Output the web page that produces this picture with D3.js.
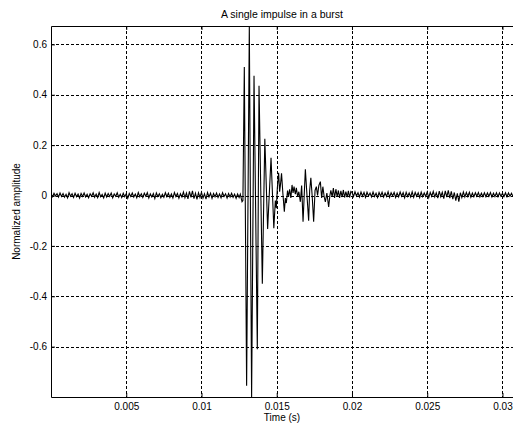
<!DOCTYPE html>
<html>
<head>
<meta charset="utf-8">
<script src="https://cdn.jsdelivr.net/npm/d3@7/dist/d3.min.js"></script>
<style>
  html, body { margin: 0; padding: 0; background: #fff; }
  svg { display: block; }
  text { font-family: "Liberation Sans", Arial, sans-serif; fill: #000; }
</style>
</head>
<body>
<script>
// ---------------- data ----------------
const chartTitle = "A single impulse in a burst";
const xLabel = "Time (s)";
const yLabel = "Normalized amplitude";
const xDomain = [0, 0.0307];
const yDomain = [-0.8, 0.673];
const xTicks = [0.005, 0.01, 0.015, 0.02, 0.025, 0.03];
const yTicks = [-0.6, -0.4, -0.2, 0, 0.2, 0.4, 0.6];

// background noise before the burst, uniformly sampled
const preStart = 0;
const preStep = 0.0001;
const preNoise = [0.006,-0.005,0.009,-0.002,0.007,-0.006,0.010,-0.004,0.008,-0.007,
0.005,-0.009,0.011,-0.003,0.007,-0.008,0.009,-0.005,0.006,-0.010,
0.008,-0.004,0.010,-0.006,0.005,-0.009,0.007,-0.003,0.011,-0.007,
0.006,-0.008,0.012,-0.005,0.004,-0.010,0.009,-0.006,0.008,-0.004,
0.010,-0.009,0.006,-0.003,0.011,-0.007,0.005,-0.008,0.009,-0.005,
0.007,-0.011,0.008,-0.004,0.010,-0.006,0.006,-0.009,0.012,-0.005,
0.007,-0.008,0.009,-0.003,0.011,-0.010,0.006,-0.006,0.008,-0.012,
0.010,-0.004,0.007,-0.009,0.005,-0.007,0.011,-0.005,0.009,-0.008,
0.006,-0.010,0.012,-0.004,0.008,-0.011,0.007,-0.006,0.014,-0.009,
0.010,-0.013,0.016,-0.007,0.018,-0.012,0.009,-0.015,0.011,-0.008,
0.013,-0.010,0.007,-0.014,0.012,-0.006,0.009,-0.011,0.008,-0.005,
0.010,-0.008,0.006,-0.009,0.011,-0.004,0.007,-0.010,0.008,-0.006,
0.009,-0.007,0.005,-0.011,0.006,-0.008];

// the burst, as turning points (time in s, amplitude)
const burstTime = [0.012580,0.012693,0.012753,0.012846,0.012999,0.013178,0.013331,0.013491,
0.013710,0.013823,0.014043,0.014209,0.014395,0.014621,0.014807,0.014907,0.014973,0.015040,
0.015126,0.015193,0.015253,0.015319,0.015406,0.015505,0.015572,0.015638,0.015718,0.015785,
0.015858,0.015938,0.016017,0.016084,0.016150,0.016237,0.016303,0.016390,0.016469,0.016569,
0.016656,0.016749,0.016902,0.017021,0.017121,0.017188,0.017267,0.017354,0.017453,0.017546,
0.017633,0.017713,0.017799,0.017899,0.017985,0.018065,0.018152,0.018231,0.018331,0.018451,
0.018531,0.018597,0.018684,0.018763,0.018843,0.018930,0.019016,0.019096,0.019176,0.019262,
0.019348,0.019428,0.019508,0.019595,0.019681,0.019761,0.019840,0.019927];
const burstValue = [0.005,-0.025,-0.020,0.510,-0.755,0.673,-0.800,0.475,
-0.610,0.436,-0.350,0.225,-0.133,0.150,-0.130,-0.020,-0.050,0.030,
0.090,0.015,0.045,0.088,0.010,-0.064,-0.010,-0.030,0.020,-0.005,
0.025,-0.010,0.042,0.010,0.035,0.005,0.030,-0.005,0.015,-0.025,
0.040,-0.104,0.104,-0.010,-0.100,0.020,0.070,0.000,-0.104,0.020,
0.035,0.000,0.040,0.055,-0.010,0.035,-0.005,-0.025,0.010,-0.045,
0.000,0.020,-0.005,0.030,-0.010,0.025,-0.005,0.020,-0.010,0.018,
-0.006,0.022,-0.008,0.015,-0.006,0.018,-0.008,0.016];

// background noise after the burst, uniformly sampled
const postStart = 0.0200;
const postStep = 0.0001;
const postNoise = [0.013,-0.004,0.015,-0.002,0.011,-0.006,0.014,-0.003,0.012,-0.007,
0.013,-0.002,0.010,-0.005,0.014,-0.004,0.009,-0.008,0.012,-0.003,
0.013,-0.006,0.010,-0.004,0.015,-0.007,0.011,-0.002,0.012,-0.008,
0.010,-0.005,0.014,-0.003,0.011,-0.009,0.013,-0.004,0.010,-0.006,
0.015,-0.007,0.012,-0.003,0.011,-0.008,0.013,-0.005,0.010,-0.004,
0.014,-0.009,0.012,-0.003,0.016,-0.006,0.011,-0.010,0.017,-0.005,
0.013,-0.012,0.018,-0.006,0.020,-0.010,0.016,-0.014,0.012,-0.020,
0.009,-0.024,0.011,-0.008,0.014,-0.006,0.012,-0.004,0.013,-0.007,
0.010,-0.005,0.011,-0.003,0.012,-0.006,0.009,-0.004,0.011,-0.005,
0.010,-0.003,0.012,-0.006,0.009,-0.004,0.011,-0.005,0.010,-0.003,
0.009,-0.004,0.011,-0.005,0.010,-0.003,0.009,-0.004];

// ---------------- layout ----------------
const W = 513, H = 424;
const mLeft = 51, mRight = 513, mTop = 26, mBottom = 397;

const svg = d3.select("body").append("svg").attr("width", W).attr("height", H);

const x = d3.scaleLinear().domain(xDomain).range([mLeft, mRight]);
const y = d3.scaleLinear().domain(yDomain).range([mBottom, mTop]);

const points = [];
preNoise.forEach((v, i) => points.push([preStart + i * preStep, v]));
burstTime.forEach((t, i) => points.push([t, burstValue[i]]));
postNoise.forEach((v, i) => points.push([postStart + i * postStep, v]));

const px = v => Math.round(v) + 0.5;

// grid
const grid = svg.append("g").attr("stroke", "#000").attr("stroke-width", 1)
  .attr("stroke-dasharray", "3,2").attr("fill", "none");
grid.selectAll("line.gx").data(xTicks).enter().append("line")
  .attr("x1", d => px(x(d))).attr("x2", d => px(x(d)))
  .attr("y1", mTop).attr("y2", mBottom);
grid.selectAll("line.gy").data(yTicks).enter().append("line")
  .attr("y1", d => px(y(d))).attr("y2", d => px(y(d)))
  .attr("x1", mLeft).attr("x2", mRight);

// signal
svg.append("clipPath").attr("id", "plotclip").append("rect")
  .attr("x", mLeft).attr("y", mTop).attr("width", mRight - mLeft).attr("height", mBottom - mTop);
svg.append("path")
  .datum(points)
  .attr("clip-path", "url(#plotclip)")
  .attr("fill", "none")
  .attr("stroke", "#000")
  .attr("stroke-width", 1.1)
  .attr("stroke-linejoin", "miter")
  .attr("d", d3.line().x(d => x(d[0])).y(d => y(d[1])));

// axes
const fmt = d => String(d);
const xAxis = svg.append("g").attr("transform", `translate(0,${px(mBottom) - 0.5})`)
  .call(d3.axisBottom(x).tickValues(xTicks).tickFormat(fmt).tickSizeInner(-4).tickSizeOuter(0).tickPadding(6));
const yAxis = svg.append("g").attr("transform", `translate(${px(mLeft) - 0.5},0)`)
  .call(d3.axisLeft(y).tickValues(yTicks).tickFormat(fmt).tickSizeInner(-4).tickSizeOuter(0).tickPadding(4));
const topAxis = svg.append("g").attr("transform", `translate(0,${px(mTop) - 0.5})`)
  .call(d3.axisTop(x).tickValues(xTicks).tickFormat("").tickSizeInner(-4).tickSizeOuter(0));
[xAxis, yAxis, topAxis].forEach(g => {
  g.selectAll("path.domain").attr("stroke", "#000").attr("stroke-width", 1);
  g.selectAll(".tick line").attr("stroke", "#000");
  g.selectAll("text").attr("font-size", 10).attr("font-family", "Liberation Sans, Arial, sans-serif");
});

// titles
svg.append("text").attr("x", (mLeft + mRight) / 2).attr("y", 18)
  .attr("text-anchor", "middle").attr("font-size", 10.5).text(chartTitle);
svg.append("text").attr("x", (mLeft + mRight) / 2).attr("y", 421)
  .attr("text-anchor", "middle").attr("font-size", 10).text(xLabel);
svg.append("text").attr("transform", `translate(20,${(mTop + mBottom) / 2}) rotate(-90)`)
  .attr("text-anchor", "middle").attr("font-size", 10).text(yLabel);
</script>
</body>
</html>
